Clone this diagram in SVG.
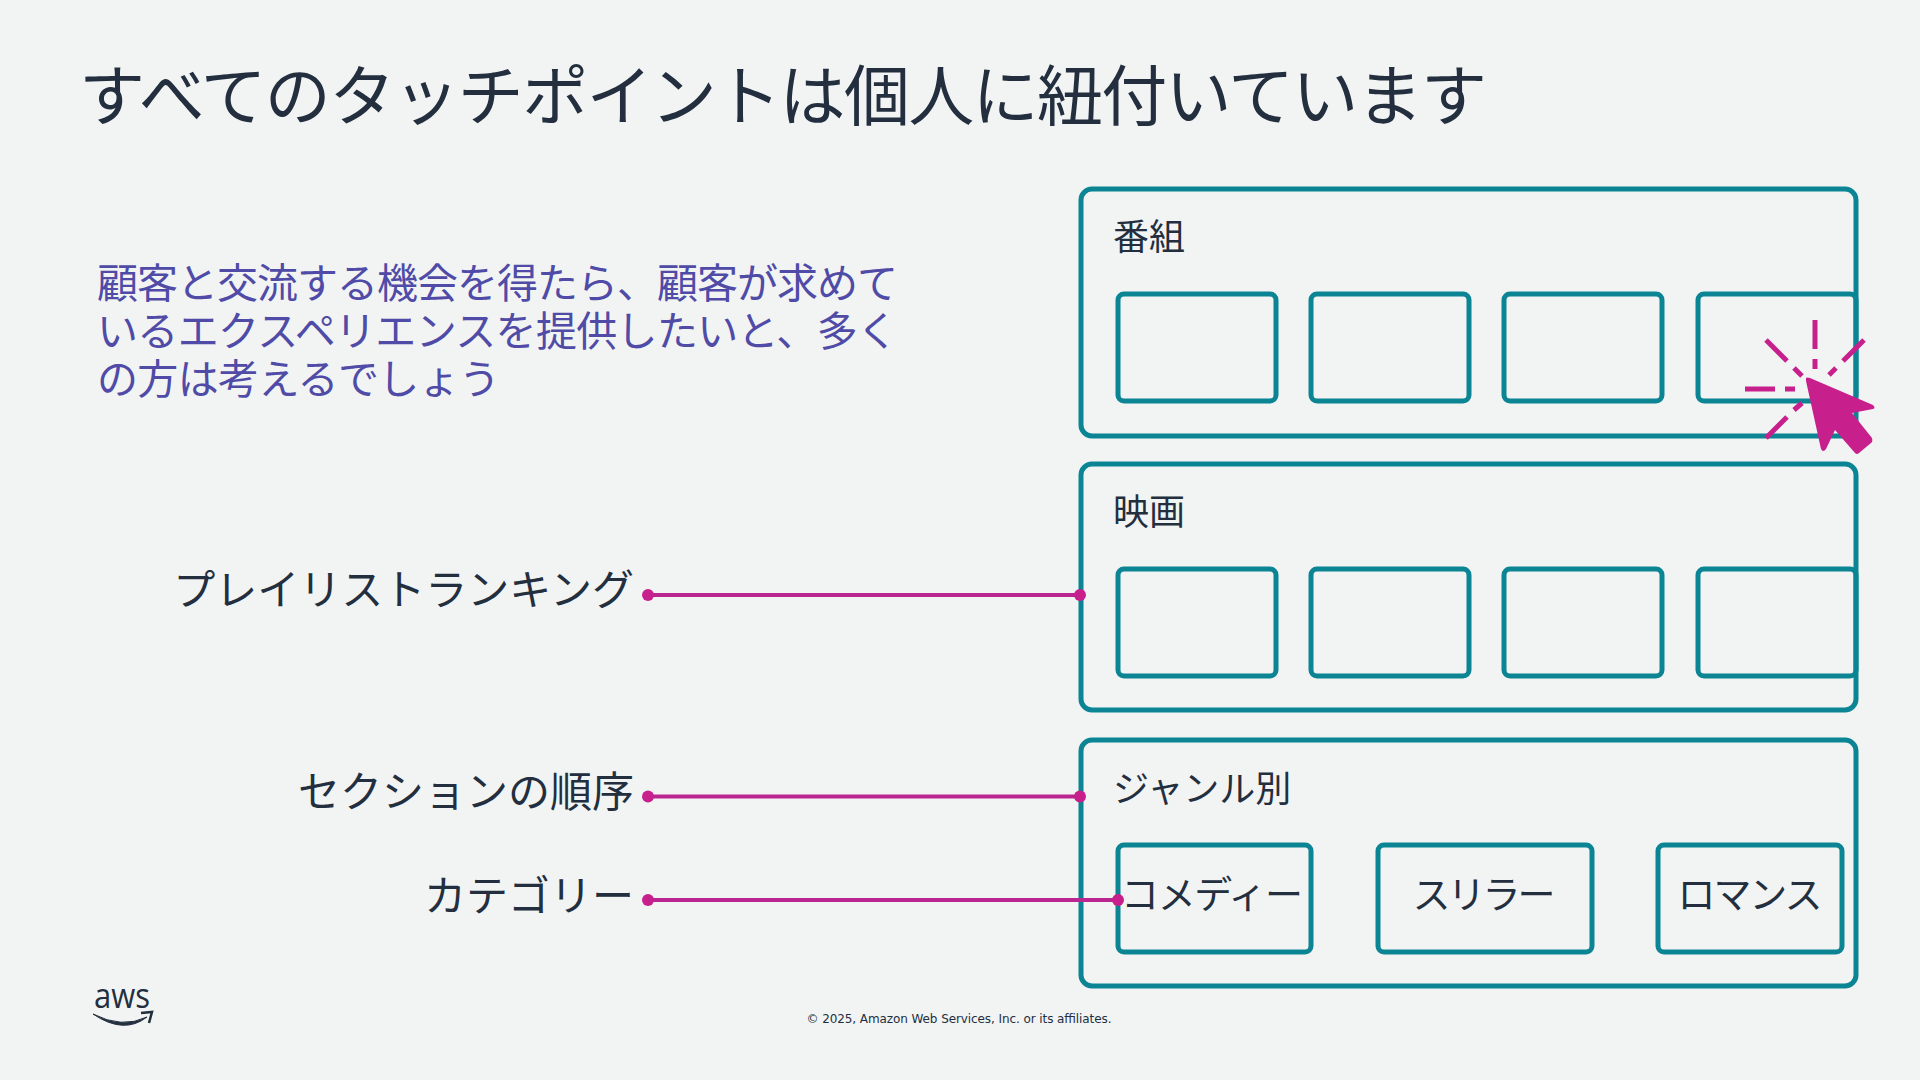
<svg xmlns="http://www.w3.org/2000/svg" width="1920" height="1080" viewBox="0 0 1920 1080">
<style>
text{font-family:"Noto Sans CJK JP","Noto Sans",sans-serif;fill:#232f3e;font-weight:400}
.o{fill:none;stroke:#0b8494;stroke-width:5}
.l{font-size:42px;text-anchor:end}
.h{font-size:36px}
.c{font-size:38px;text-anchor:middle}
.p{stroke:#bb2590;stroke-width:4;fill:none}
.d{fill:#c7208c}
.b{font-size:41px;fill:#4f4ba6}
.s{stroke:#c7208c;stroke-width:5;fill:none}
</style>
<rect width="1920" height="1080" fill="#f2f4f4"/>
<text x="79" y="120" font-size="66" textLength="1408" id="title">すべてのタッチポイントは個人に紐付いています</text>
<text class="b" x="97" y="298" textLength="801">顧客と交流する機会を得たら、顧客が求めて</text>
<text class="b" x="97" y="346" textLength="801">いるエクスペリエンスを提供したいと、多く</text>
<text class="b" x="97" y="394" textLength="403">の方は考えるでしょう</text>
<g id="shows">
<rect class="o" x="1081" y="189" width="775" height="247" rx="11"/>
<text class="h" x="1113" y="250">番組</text>
<rect class="o" x="1118" y="294" width="158" height="107" rx="6"/>
<rect class="o" x="1311" y="294" width="158" height="107" rx="6"/>
<rect class="o" x="1504" y="294" width="158" height="107" rx="6"/>
<rect class="o" x="1698" y="294" width="158" height="107" rx="6"/>
</g>
<g id="movies">
<rect class="o" x="1081" y="464" width="775" height="246" rx="11"/>
<text class="h" x="1113" y="525">映画</text>
<rect class="o" x="1118" y="569" width="158" height="107" rx="6"/>
<rect class="o" x="1311" y="569" width="158" height="107" rx="6"/>
<rect class="o" x="1504" y="569" width="158" height="107" rx="6"/>
<rect class="o" x="1698" y="569" width="158" height="107" rx="6"/>
</g>
<g id="genres">
<rect class="o" x="1081" y="740" width="775" height="246" rx="11"/>
<text class="h" x="1113" y="802">ジャンル別</text>
<g id="comedy"><rect class="o" x="1118" y="845" width="193" height="107" rx="6"/>
<text class="c" x="1212" y="908" textLength="182">コメディー</text></g>
<g id="thriller"><rect class="o" x="1378" y="845" width="214" height="107" rx="6"/>
<text class="c" x="1484" y="908" textLength="143">スリラー</text></g>
<g id="romance"><rect class="o" x="1658" y="845" width="184" height="107" rx="6"/>
<text class="c" x="1750" y="908" textLength="145">ロマンス</text></g>
</g>
<g id="labels">
<text class="l" x="634" y="605">プレイリストランキング</text>
<text class="l" x="634" y="807">セクションの順序</text>
<text class="l" x="634" y="911">カテゴリー</text>
</g>
<g id="connectors">
<path class="p" d="M648 595H1080"/><circle class="d" cx="648" cy="595" r="6"/><circle class="d" cx="1080" cy="595" r="6"/>
<path class="p" d="M648 796.500H1080"/><circle class="d" cx="648" cy="796.500" r="6"/><circle class="d" cx="1080" cy="796.500" r="6"/>
<path class="p" d="M648 900H1118"/><circle class="d" cx="648" cy="900" r="6"/><circle class="d" cx="1118" cy="900" r="6"/>
</g>
<g id="cursor">
<path class="s" d="M1815 320V349M1815 359V369M1745 389H1775M1785 389H1795M1766 340L1787 361M1794 368L1802 376M1864 340L1843 361M1836 368L1829 375M1766 438L1787 417M1794 410L1802 403"/>
<path class="d" d="M1806 378Q1807 377 1810 378L1873 405Q1876 408 1873 409L1852 413L1872 438Q1873 442 1871 443L1859 453Q1857 455 1855 453L1835 430L1826 449Q1823 453 1821 449L1806 381Z"/>
</g>
<g id="logo">
<text x="94" y="1008" font-size="34" textLength="56" lengthAdjust="spacingAndGlyphs" style="font-family:'Open Sans',sans-serif;font-weight:500">aws</text>
<path d="M93 1014Q122 1029 147 1017Q124 1035 93 1014Z" fill="#232f3e" stroke="#232f3e" stroke-width="1"/>
<path d="M141 1013L152 1012L149 1023" fill="none" stroke="#232f3e" stroke-width="2.500"/>
</g>
<text x="959" y="1023" font-size="12" text-anchor="middle" textLength="305" style="font-family:'DejaVu Sans',sans-serif;font-weight:400">© 2025, Amazon Web Services, Inc. or its affiliates.</text>
</svg>
